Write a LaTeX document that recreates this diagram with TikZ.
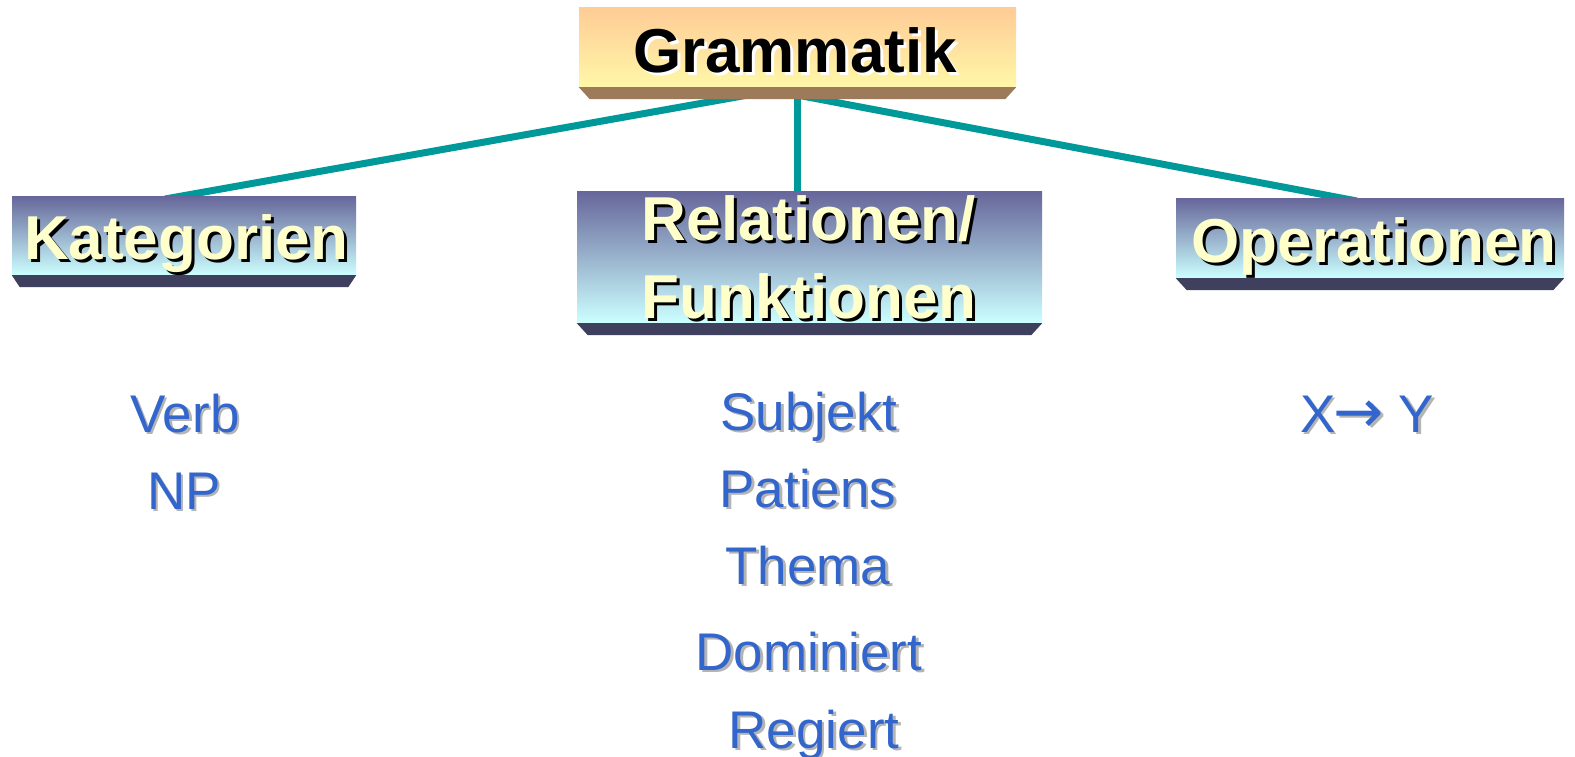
\documentclass[tikz,border=0pt]{standalone}
\usepackage{fontspec}
\setmainfont{Liberation Sans}
\newfontfamily\arrowfont{DejaVu Sans}
\usetikzlibrary{calc}
\definecolor{linkteal}{HTML}{009999}
\definecolor{peachtop}{HTML}{FFCB96}
\definecolor{peachbot}{HTML}{FFF8A8}
\definecolor{peachedge}{HTML}{9C7A5A}
\definecolor{violettop}{HTML}{66669A}
\definecolor{cyanbot}{HTML}{CCFFFF}
\definecolor{darkedge}{HTML}{3F3F5E}
\definecolor{headtext}{HTML}{FFFFCC}
\definecolor{itemblue}{HTML}{3366CC}
\definecolor{itemshade}{HTML}{B4B4B4}

\tikzset{
  link/.style={draw=linkteal, line width=7pt},
  topbox/.style={rectangle, inner sep=0pt, top color=peachtop, bottom color=peachbot,
    minimum width=437pt, minimum height=80pt},
  subbox/.style={rectangle, inner sep=0pt, top color=violettop, bottom color=cyanbot},
  headfont/.style={anchor=base, inner sep=0pt, font=\fontsize{62}{62}\selectfont\bfseries},
  itemfont/.style={anchor=base, inner sep=0pt, font=\fontsize{53}{53}\selectfont},
}

% bevelled lower edge of a box
\newcommand\boxedge[3]{%
  \fill[#3] (#1.south west) -- (#1.south east) -- ($(#1.south east)+(-#2,12)$)
    -- ($(#1.south west)+(#2,12)$) -- cycle;}
% heading text with a drop shadow
\newcommand\headline[6]{%
  \node[headfont, text=#6] at ($(#2,#3)+(3,3)$) {#4};
  \node[headfont, text=#5] (#1) at (#2,#3) {#4};}
% list entry with a soft shadow
\newcommand\listword[4]{%
  \node[itemfont, text=itemshade] at ($(#2,#3)+(2.5,2.5)$) {#4};
  \node[itemfont, text=itemblue] (#1) at (#2,#3) {#4};}
% long right arrow used inside a list entry
\newcommand\longto{{\arrowfont\fontsize{60}{60}\selectfont →}}

\begin{document}
\begin{tikzpicture}[x=1pt, y=-1pt]
\useasboundingbox[fill=white] (0,0) rectangle (1575,756);

% connector end points
\coordinate (gL) at (748,95);
\coordinate (gM) at (797,95);
\coordinate (kTop) at (165,199);
\coordinate (rTop) at (797,194);
\coordinate (oTop) at (1357,201);

% connectors from the root to the three branches (drawn first, boxes cover the ends)
\draw[link] (gL) -- (kTop);
\draw[link] (gM) -- (rTop);
\draw[link] (gM) -- (oTop);

% boxes
\node[topbox] (gram) at (797.5,47) {};
\node[subbox, minimum width=344pt, minimum height=79pt] (kat) at (184,235.5) {};
\node[subbox, minimum width=465pt, minimum height=132pt] (rel) at (809.5,257) {};
\node[subbox, minimum width=388pt, minimum height=80pt] (ops) at (1370,238) {};

\boxedge{gram}{11}{peachedge}
\boxedge{kat}{8}{darkedge}
\boxedge{rel}{11}{darkedge}
\boxedge{ops}{11}{darkedge}

% headings
\headline{tgram}{795}{72}{Grammatik}{black}{white}
\headline{tkat}{186}{259}{Kategorien}{headtext}{black}
\headline{trel}{809}{240}{Relationen/}{headtext}{black}
\headline{tfun}{809}{318}{Funktionen}{headtext}{black}
\headline{tops}{1374}{262}{Operationen}{headtext}{black}

% entries
\listword{verb}{185}{432}{Verb}
\listword{np}{184}{509}{NP}
\listword{subj}{809}{430}{Subjekt}
\listword{pat}{808}{507}{Patiens}
\listword{them}{808}{584}{Thema}
\listword{dom}{809}{670}{Dominiert}
\listword{reg}{814}{748}{Regiert}
\listword{xy}{1367}{432}{X\kern-2pt\longto\ Y}
\end{tikzpicture}
\end{document}
